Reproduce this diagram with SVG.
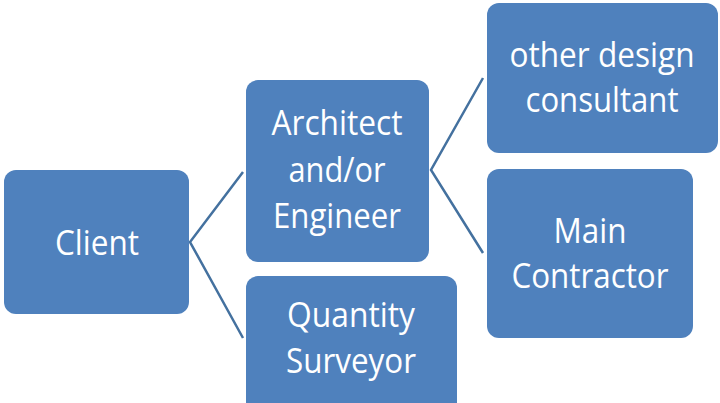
<svg xmlns="http://www.w3.org/2000/svg" width="720" height="403" viewBox="0 0 720 403">
<style>
.box{fill:#4F81BD;}
.lbl{fill:#FFFFFF;font-family:"Open Sans","Noto Sans",sans-serif;font-size:35px;text-anchor:middle;}
.con{stroke:#44719F;stroke-width:2.5;fill:none;}
</style>
<rect width="720" height="403" fill="#FFFFFF"/>
<g id="connectors">
<polyline class="con" points="243,172 190,242 243,338"/>
<polyline class="con" points="483,78 431,170 483,253"/>
</g>
<g id="client">
<rect class="box" x="4" y="170" width="185" height="144" rx="12"/>
<text class="lbl" x="97" y="255" textLength="84" lengthAdjust="spacingAndGlyphs">Client</text>
</g>
<g id="architect">
<rect class="box" x="246" y="80" width="183" height="182" rx="12"/>
<text class="lbl" x="337" y="135" textLength="131" lengthAdjust="spacingAndGlyphs">Architect</text>
<text class="lbl" x="337" y="182" textLength="97" lengthAdjust="spacingAndGlyphs">and/or</text>
<text class="lbl" x="337" y="228" textLength="128" lengthAdjust="spacingAndGlyphs">Engineer</text>
</g>
<g id="qs">
<rect class="box" x="246" y="276" width="211" height="140" rx="12"/>
<text class="lbl" x="351" y="327" textLength="128" lengthAdjust="spacingAndGlyphs">Quantity</text>
<text class="lbl" x="351" y="373" textLength="130" lengthAdjust="spacingAndGlyphs">Surveyor</text>
</g>
<g id="other">
<rect class="box" x="487" y="3" width="231" height="150" rx="12"/>
<text class="lbl" x="602" y="67" textLength="185" lengthAdjust="spacingAndGlyphs">other design</text>
<text class="lbl" x="602" y="112" textLength="153" lengthAdjust="spacingAndGlyphs">consultant</text>
</g>
<g id="main">
<rect class="box" x="487" y="169" width="206" height="169" rx="12"/>
<text class="lbl" x="590" y="243" textLength="73" lengthAdjust="spacingAndGlyphs">Main</text>
<text class="lbl" x="590" y="288" textLength="157" lengthAdjust="spacingAndGlyphs">Contractor</text>
</g>
</svg>
